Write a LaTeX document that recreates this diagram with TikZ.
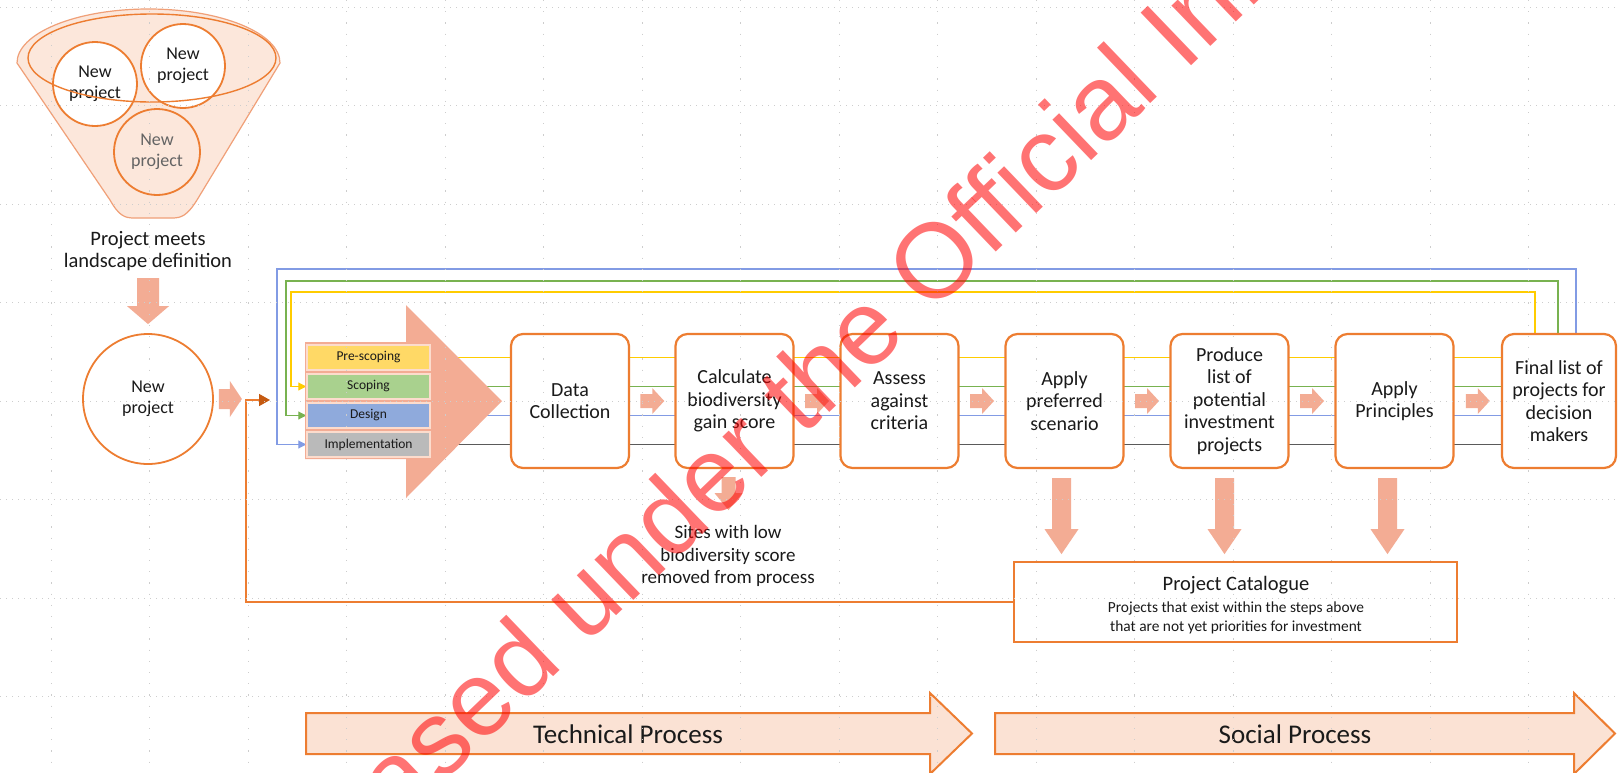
\documentclass[tikz,border=0pt]{standalone}
\usepackage{fontspec}
\setmainfont{Carlito}
\newfontfamily\wmfont{Liberation Sans}
\usetikzlibrary{arrows.meta,calc}

\definecolor{orng}{RGB}{237,125,49}
\definecolor{dorng}{RGB}{197,90,17}
\definecolor{salmon}{RGB}{243,172,148}
\definecolor{peach}{RGB}{251,226,212}
\definecolor{funnelfill}{RGB}{252,231,219}
\definecolor{funneledge}{RGB}{240,160,120}
\definecolor{txt}{RGB}{26,26,26}
\definecolor{ltxt}{RGB}{100,100,100}
\definecolor{ylwline}{RGB}{255,204,0}
\definecolor{grnline}{RGB}{120,178,80}
\definecolor{bluline}{RGB}{130,155,228}
\definecolor{gryline}{RGB}{90,90,90}
\definecolor{ylwfill}{RGB}{255,217,102}
\definecolor{grnfill}{RGB}{169,209,142}
\definecolor{blufill}{RGB}{143,170,220}
\definecolor{gryfill}{RGB}{186,186,186}
\definecolor{stageedge}{RGB}{252,220,205}
\definecolor{gridc}{RGB}{205,205,205}

\pgfdeclarelayer{back}
\pgfdeclarelayer{mid}
\pgfdeclarelayer{front}
\pgfsetlayers{back,mid,main,front}

\tikzset{
  stepbox/.style={draw=orng, line width=2.2pt, fill=white, rounded corners=12pt,
    minimum width=118pt, minimum height=134pt, align=center, text=txt, inner sep=1pt,
    font=\fontsize{20}{22.5}\selectfont},
  stage/.style={draw=stageedge, line width=1.5pt, minimum width=123pt, minimum height=25pt,
    inner sep=0pt, text=txt, font=\fontsize{13.5}{15}\selectfont},
  bubble/.style={circle, draw=orng, line width=1.8pt, minimum size=84pt, inner sep=0pt,
    align=center, font=\fontsize{18}{21}\selectfont},
  loopline/.style={line width=1.1pt, -{Triangle[length=8pt,width=8pt]}},
  plain/.style={align=center, text=txt, inner sep=0pt},
  process/.style={fill=peach, draw=orng, line width=2pt},
  gridline/.style={gridc, line width=0.9pt},
  % right-pointing block arrow: tail / head base / tip / shaft half / head half
  pics/rblk/.style args={#1/#2/#3/#4/#5}{code={
    \fill[salmon] (-#1,-#4) -- (#2,-#4) -- (#2,-#5) -- (#3,0) -- (#2,#5) -- (#2,#4) -- (-#1,#4) -- cycle;}},
  % downward block arrow: tail / head base / tip / shaft half / head half
  pics/dblk/.style args={#1/#2/#3/#4/#5}{code={
    \fill[salmon] (-#4,-#1) -- (#4,-#1) -- (#4,#2) -- (#5,#2) -- (0,#3) -- (-#5,#2) -- (-#4,#2) -- cycle;}},
}

\begin{document}
\begin{tikzpicture}[x=1pt,y=-1pt]
\useasboundingbox (0,0) rectangle (1618,772);
\begin{pgfonlayer}{back}
\fill[white] (0,0) rectangle (1618,772);
\end{pgfonlayer}

% ---------- funnel of candidate projects ----------
\filldraw[fill=funnelfill, draw=funneledge, line width=1.2pt]
  (17,63) arc[start angle=180, end angle=360, x radius=131.5, y radius=54]
  -- (197,200) .. controls (187,216) and (181,218) .. (172,218)
  -- (134,218) .. controls (125,218) and (119,216) .. (110,200) -- cycle;
\node[bubble, fill=white, text=txt] (c1) at (95,84) {New\\project};
\node[bubble, fill=white, text=txt] (c2) at (183,66) {New\\project};
\node[bubble, fill=funnelfill, text=ltxt, minimum size=86pt] (c3) at (157,152) {New\\project};
\draw[orng, line width=1.4pt] (152,58) ellipse [x radius=124, y radius=44];

\node[plain, font=\fontsize{20.5}{22.5}\selectfont] (pm) at (148,251) {Project meets\\landscape definition};

% ---------- new project entering the process ----------
\node[bubble, fill=white, text=txt, minimum size=130pt] (np) at (148,399) {New\\project};
\pic at ([yshift=27pt]np.north) {dblk=28/0/18/11/21};
\pic at ([xshift=16pt]np.east) {rblk=11/0/12/10/18};

% ---------- stages ----------
\node[stage, fill=ylwfill] (pre)  at (368.5,357.5) {Pre-scoping};
\node[stage, fill=grnfill] (scop) at (368.5,386.5) {Scoping};
\node[stage, fill=blufill] (des)  at (368.5,415.5) {Design};
\node[stage, fill=gryfill] (impl) at (368.5,444.5) {Implementation};

\begin{pgfonlayer}{mid}
\fill[salmon] (305,342) -- (406,342) -- (406,305) -- (502,401) -- (406,498)
  -- (406,459) -- (305,459) -- cycle;
\end{pgfonlayer}

% ---------- process steps ----------
\node[stepbox] (dc) at (570,401) {Data\\Collection};
\node[stepbox] (cb) at (734.5,401) {Calculate\\biodiversity\\gain score};
\node[stepbox] (ac) at (899.5,401) {Assess\\against\\criteria};
\node[stepbox] (ap) at (1064.5,401) {Apply\\preferred\\scenario};
\node[stepbox] (pl) at (1229.5,401) {Produce\\list of\\potential\\investment\\projects};
\node[stepbox] (pr) at (1394.5,401) {Apply\\Principles};
\node[stepbox, minimum width=114pt] (fl) at (1559,401) {Final list of\\projects for\\decision\\makers};

\foreach \a/\b in {dc/cb, cb/ac, ac/ap, ap/pl, pl/pr, pr/fl}
  \pic at ($(\a.east)!0.5!(\b.west)$) {rblk=12/0/12/7/13};

% ---------- stage lines and feedback loops ----------
\coordinate (yR) at (1535,292); \coordinate (yL) at (291,292);
\coordinate (gR) at (1558,281); \coordinate (gL) at (286,281);
\coordinate (bR) at (1576,269); \coordinate (bL) at (277,269);
\begin{pgfonlayer}{back}
\draw[loopline, ylwline] (pre.east) -| (yR) -- (yL) |- (scop.west);
\draw[loopline, grnline] (scop.east) -| (gR) -- (gL) |- (des.west);
\draw[loopline, bluline] (des.east) -| (bR) -- (bL) |- (impl.west);
\draw[gryline, line width=1.1pt] (impl.east) -- (impl.east -| fl.center);
\end{pgfonlayer}

% ---------- removal and catalogue ----------
\pic at ([xshift=-6pt, yshift=-24pt]cb.south) {dblk=16/0/17/7/14};
\node[plain, font=\fontsize{19}{22.5}\selectfont] (sites) at (728,556)
  {Sites with low\\biodiversity score\\removed from process};

\node[draw=orng, line width=2pt, fill=white, minimum width=443pt, minimum height=80pt,
  inner sep=0pt] (cat) at (1235.5,602) {};
\node[plain, font=\fontsize{20.5}{22}\selectfont] (cattitle) at (1236,585) {Project Catalogue};
\node[plain, font=\fontsize{15.4}{19}\selectfont] (catsub) at (1236,617.5)
  {Projects that exist within the steps above\\that are not yet priorities for investment};

\pic at ([xshift=-3pt, yshift=-60pt]ap.south) {dblk=51/0/25/9.5/17};
\pic at ([xshift=-5pt, yshift=-60pt]pl.south) {dblk=51/0/25/9.5/17};
\pic at ([xshift=-7pt, yshift=-60pt]pr.south) {dblk=51/0/25/9.5/17};

\coordinate (fb) at (246,400);
\coordinate (entry) at (270,400);
\draw[orng, line width=1.5pt, -{Triangle[length=11pt,width=12pt,color=dorng]}]
  (cat.west) -| (fb) -- (entry);

% ---------- technical / social process bands ----------
\filldraw[process] (306,713) -- (930,713) -- (930,693) -- (972,733.5) -- (930,774)
  -- (930,754) -- (306,754) -- cycle;
\node[plain, font=\fontsize{27}{30}\selectfont] (tech) at (628,734) {Technical Process};
\filldraw[process] (995,713) -- (1574,713) -- (1574,693) -- (1615,733.5) -- (1574,774)
  -- (1574,754) -- (995,754) -- cycle;
\node[plain, font=\fontsize{27}{30}\selectfont] (soc) at (1295,734) {Social Process};

% ---------- guide grid ----------
\begin{pgfonlayer}{front}
\foreach \gy in {7,105.5,204,302.5,401,499.5,598,696.5}
  \draw[gridline, dash pattern=on 1.2pt off 4.8pt] (0,\gy) -- (1618,\gy);
\foreach \k in {0,...,15}
  \draw[gridline, dash pattern=on 1.2pt off 10pt] ({51+98.5*\k},0) -- ({51+98.5*\k},772);

% ---------- release stamp ----------
\begin{scope}
\clip (0,0) rectangle (1618,772);
\node[rotate=43.8, text=red, opacity=0.55, inner sep=0pt,
  font=\wmfont\fontsize{106}{106}\selectfont] (stamp) at (944,250)
  {Released under the Official Information Act};
\end{scope}
\end{pgfonlayer}
\end{tikzpicture}
\end{document}
